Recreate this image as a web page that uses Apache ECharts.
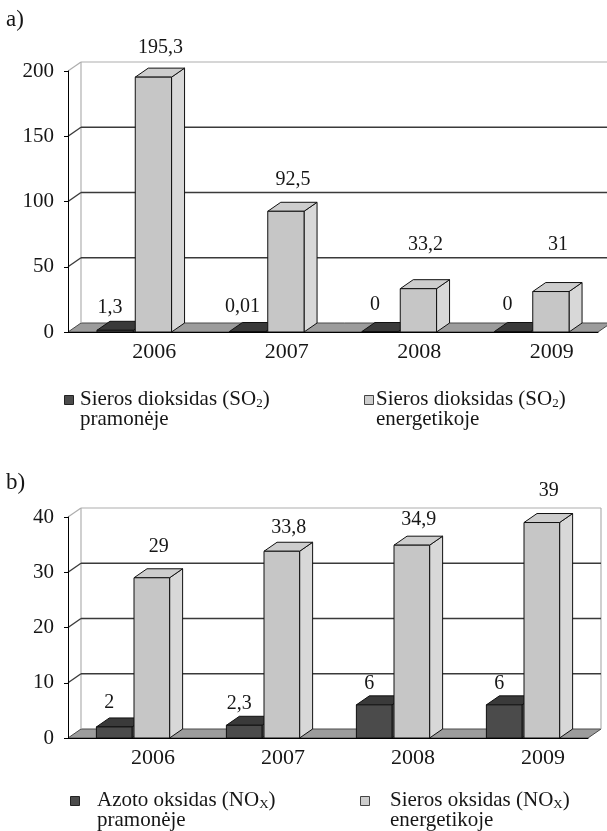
<!DOCTYPE html>
<html>
<head>
<meta charset="utf-8">
<script src="https://cdn.jsdelivr.net/npm/echarts@6/dist/echarts.min.js"></script>
<style>
  html, body { margin: 0; padding: 0; background: #fff; }
  #chart { width: 607px; height: 831px; }
</style>
</head>
<body>
<div id="chart"></div>
<script>
// Emission data, t per year
const years = ['2006', '2007', '2008', '2009'];
const so2Industry = [1.3, 0.01, 0, 0];
const so2Energy = [195.3, 92.5, 33.2, 31];
const noxIndustry = [2, 2.3, 6, 6];
const noxEnergy = [29, 33.8, 34.9, 39];
const ticksA = [0, 50, 100, 150, 200];
const ticksB = [0, 10, 20, 30, 40];

// How far each value label sits above its bar (px)
const liftA = [[23, 25, 27, 27], [29, 32, 44, 47]];
const liftB = [[24, 22, 21, 21], [31, 24, 25, 32]];

const FONT = '"Liberation Serif", "Times New Roman", serif';
const DX = 13, DY = -9;               // depth offset of the 3-D look
const TXT = '#161616';

const barStyles = [
  { front: '#4b4b4b', side: '#5c5c5c', top: '#3a3a3a', labelShift: -5 },
  { front: '#c6c6c6', side: '#d8d8d8', top: '#cdcdcd', labelShift: 7 }
];

function fmt(v) { return String(v).replace('.', ','); }

// Walls, gridlines and floor
function frameRenderer(maxTick) {
  return function (params, api) {
    const cs = params.coordSys;
    const L = cs.x, R = cs.x + cs.width;
    const t = api.value(1);
    const y = api.coord([0, t])[1];
    const children = [];
    if (t === 0) {
      const yTop = api.coord([0, maxTick])[1];
      children.push({
        type: 'polygon',
        shape: { points: [[L, y], [R, y], [R + DX, y + DY], [L + DX, y + DY]] },
        style: { fill: '#9c9c9c', stroke: '#4a4a4a', lineWidth: 1 }
      });
      children.push({
        type: 'line',
        shape: { x1: L + DX, y1: yTop + DY, x2: L + DX, y2: y + DY },
        style: { stroke: '#b0b0b0', lineWidth: 1.2 }
      });
      children.push({
        type: 'line',
        shape: { x1: R + DX, y1: yTop + DY, x2: R + DX, y2: y + DY },
        style: { stroke: '#b0b0b0', lineWidth: 1.2 }
      });
    } else {
      const col = t === maxTick ? '#adadad' : '#3a3a3a';
      const lw = t === maxTick ? 1.2 : 1.4;
      children.push({
        type: 'line',
        shape: { x1: L, y1: y, x2: L + DX, y2: y + DY },
        style: { stroke: col, lineWidth: lw }
      });
      children.push({
        type: 'line',
        shape: { x1: L + DX, y1: y + DY, x2: R + DX, y2: y + DY },
        style: { stroke: col, lineWidth: lw }
      });
    }
    return { type: 'group', children: children };
  };
}

// Box-shaped bars with value labels
function barRenderer(k, lifts) {
  const st = barStyles[k];
  return function (params, api) {
    const i = api.value(0), v = api.value(1);
    const base = api.coord([i, 0]);
    const top = api.coord([i, v]);
    const band = api.size([1, 0])[0];
    const w = band * 0.274;
    const x0 = k === 0 ? base[0] - w - 1 : base[0] + 1;
    const x1 = x0 + w;
    const yb = base[1], yt = Math.min(top[1], yb - 0.5);
    const edge = { stroke: '#111', lineWidth: 1 };
    const children = [
      {
        type: 'polygon',
        shape: { points: [[x1, yt], [x1 + DX, yt + DY], [x1 + DX, yb + DY], [x1, yb]] },
        style: Object.assign({ fill: st.side }, edge)
      },
      {
        type: 'polygon',
        shape: { points: [[x0, yt], [x1, yt], [x1 + DX, yt + DY], [x0 + DX, yt + DY]] },
        style: Object.assign({ fill: st.top }, edge)
      },
      {
        type: 'rect',
        shape: { x: x0, y: yt, width: w, height: yb - yt },
        style: Object.assign({ fill: st.front }, edge)
      },
      {
        type: 'text',
        x: (x0 + x1) / 2 + st.labelShift,
        y: yt - lifts[k][i],
        style: {
          text: fmt(v), fill: TXT, font: '20px ' + FONT,
          align: 'center', verticalAlign: 'middle',
          textAlign: 'center', textVerticalAlign: 'middle'
        }
      }
    ];
    return { type: 'group', children: children };
  };
}

function catAxis(gridIndex) {
  return {
    type: 'category', gridIndex: gridIndex, data: years, z: 4,
    axisLine: { lineStyle: { color: '#000', width: 1 } },
    axisTick: { length: 5, lineStyle: { color: '#000' } },
    axisLabel: {
      fontFamily: FONT, fontSize: 22, color: TXT, margin: 9,
      padding: [0, 0, 0, 40]
    },
    splitLine: { show: false }
  };
}

function valAxis(gridIndex, ticks) {
  return {
    type: 'value', gridIndex: gridIndex, z: 4,
    min: ticks[0], max: ticks[ticks.length - 1], interval: ticks[1] - ticks[0],
    axisLine: { show: true, lineStyle: { color: '#000', width: 1 } },
    axisTick: { show: true, length: 4, lineStyle: { color: '#000' } },
    axisLabel: { fontFamily: FONT, fontSize: 21, color: TXT, margin: 14 },
    splitLine: { show: false }
  };
}

function panelSeries(idx, ticks, dark, light, lifts) {
  return [
    {
      type: 'custom', xAxisIndex: idx, yAxisIndex: idx, z: 1,
      renderItem: frameRenderer(ticks[ticks.length - 1]),
      data: ticks.map(function (t) { return [0, t]; }),
      silent: true
    },
    {
      type: 'custom', xAxisIndex: idx, yAxisIndex: idx, z: 2,
      renderItem: barRenderer(0, lifts),
      data: dark.map(function (v, i) { return [i, v]; })
    },
    {
      type: 'custom', xAxisIndex: idx, yAxisIndex: idx, z: 3,
      renderItem: barRenderer(1, lifts),
      data: light.map(function (v, i) { return [i, v]; })
    }
  ];
}

const rich = {
  n: { fontFamily: FONT, fontSize: 21, lineHeight: 20, fill: TXT, color: TXT },
  s: { fontFamily: FONT, fontSize: 13, lineHeight: 20, fill: TXT, color: TXT, padding: [9, 0, 0, 0] }
};

function legendItem(x, y, color, stroke, textX, label) {
  return [
    {
      type: 'rect', left: x, top: y,
      shape: { width: 9, height: 9 },
      style: { fill: color, stroke: stroke, lineWidth: 1 }
    },
    {
      type: 'text', left: textX, top: y - 7,
      style: { text: label, rich: rich, font: '21px ' + FONT, fill: TXT, lineHeight: 20 }
    }
  ];
}

const chart = echarts.init(document.getElementById('chart'), null, { renderer: 'canvas' });
chart.setOption({
  backgroundColor: '#fff',
  animation: false,
  grid: [
    { left: 68, top: 71, width: 530, height: 261 },
    { left: 68, top: 517, width: 520, height: 221 }
  ],
  xAxis: [catAxis(0), catAxis(1)],
  yAxis: [valAxis(0, ticksA), valAxis(1, ticksB)],
  series: []
    .concat(panelSeries(0, ticksA, so2Industry, so2Energy, liftA))
    .concat(panelSeries(1, ticksB, noxIndustry, noxEnergy, liftB)),
  graphic: [
    { type: 'text', left: 6, top: 8, style: { text: 'a)', font: '23px ' + FONT, fill: TXT } },
    { type: 'text', left: 6, top: 471, style: { text: 'b)', font: '23px ' + FONT, fill: TXT } }
  ]
    .concat(legendItem(64, 395, '#4b4b4b', '#222', 80,
      '{n|Sieros dioksidas (SO}{s|2}{n|)}\n{n|pramonėje}'))
    .concat(legendItem(364, 395, '#cdcdcd', '#444', 376,
      '{n|Sieros dioksidas (SO}{s|2}{n|)}\n{n|energetikoje}'))
    .concat(legendItem(70, 796, '#4b4b4b', '#222', 97,
      '{n|Azoto oksidas (NO}{s|X}{n|)}\n{n|pramonėje}'))
    .concat(legendItem(360, 796, '#cdcdcd', '#444', 390,
      '{n|Sieros oksidas (NO}{s|X}{n|)}\n{n|energetikoje}'))
});
</script>
</body>
</html>
